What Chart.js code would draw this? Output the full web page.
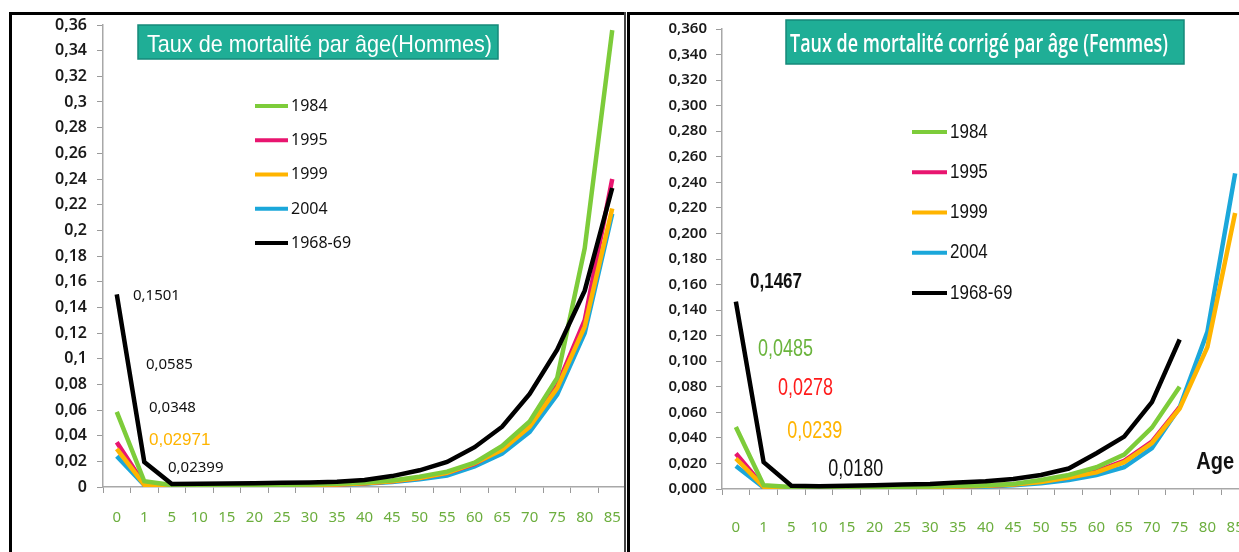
<!DOCTYPE html>
<html><head><meta charset="utf-8">
<script src="https://cdn.jsdelivr.net/npm/chart.js@4.4.0/dist/chart.umd.min.js"></script>
<style>
html,body{margin:0;padding:0;width:1239px;height:552px;overflow:hidden;background:#fff;}
#wrapH{position:absolute;left:0;top:0;width:626px;height:552px;}
#wrapF{position:absolute;left:629px;top:0;width:620px;height:552px;}
.fr{position:absolute;}
</style></head><body>
<div id="wrapH"><canvas id="cH" width="626" height="552"></canvas></div>
<div id="wrapF"><canvas id="cF" width="620" height="552"></canvas></div>
<div class="fr" style="left:9px;top:12px;width:3px;height:540px;background:#000"></div>
<div class="fr" style="left:9px;top:12px;width:617px;height:3px;background:#000"></div>
<div class="fr" style="left:624px;top:12px;width:2px;height:540px;background:#444"></div>
<div class="fr" style="left:627px;top:12px;width:3px;height:540px;background:#000"></div>
<div class="fr" style="left:627px;top:12px;width:612px;height:3px;background:#000"></div>
<script>
// ---------- DATA ----------
const ages = ['0','1','5','10','15','20','25','30','35','40','45','50','55','60','65','70','75','80','85'];
const seriesNames = ['1984','1995','1999','2004','1968-69'];

const yTickValues = [0,0.02,0.04,0.06,0.08,0.10,0.12,0.14,0.16,0.18,0.20,0.22,0.24,0.26,0.28,0.30,0.32,0.34,0.36];
const yTicksH = ['0','0,02','0,04','0,06','0,08','0,1','0,12','0,14','0,16','0,18','0,2','0,22','0,24','0,26','0,28','0,3','0,32','0,34','0,36'];
const yTicksF = ['0,000','0,020','0,040','0,060','0,080','0,100','0,120','0,140','0,160','0,180','0,200','0,220','0,240','0,260','0,280','0,300','0,320','0,340','0,360'];

// Hommes
const h1984 = [0.0585,0.0045,0.0015,0.0010,0.0012,0.0015,0.0017,0.0020,0.0025,0.0035,0.0050,0.0080,0.0120,0.0190,0.0320,0.0510,0.0850,0.1860,0.3560];
const h1995 = [0.0348,0.0020,0.0010,0.0008,0.0010,0.0012,0.0014,0.0016,0.0020,0.0030,0.0045,0.0070,0.0110,0.0180,0.0300,0.0480,0.0790,0.1300,0.2400];
const h1999 = [0.02971,0.0018,0.0009,0.0008,0.0010,0.0012,0.0014,0.0016,0.0020,0.0030,0.0045,0.0070,0.0110,0.0185,0.0290,0.0470,0.0770,0.1250,0.2170];
const h2004 = [0.02399,0.0015,0.0008,0.0007,0.0009,0.0010,0.0012,0.0014,0.0017,0.0025,0.0038,0.0060,0.0090,0.0160,0.0260,0.0430,0.0720,0.1200,0.2130];
const h1968 = [0.1501,0.0195,0.0023,0.0025,0.0028,0.0030,0.0033,0.0035,0.0040,0.0055,0.0085,0.0130,0.0195,0.0310,0.0470,0.0725,0.1070,0.1530,0.2330];

// Femmes
const f1984 = [0.0485,0.0030,0.0015,0.0010,0.0012,0.0015,0.0018,0.0020,0.0025,0.0030,0.0040,0.0070,0.0110,0.0170,0.0270,0.0480,0.0800,null,null];
const f1995 = [0.0278,0.0020,0.0010,0.0008,0.0010,0.0012,0.0014,0.0016,0.0020,0.0025,0.0035,0.0060,0.0090,0.0140,0.0220,0.0370,0.0640,null,null];
const f1999 = [0.0239,0.0018,0.0009,0.0008,0.0010,0.0012,0.0014,0.0016,0.0020,0.0025,0.0035,0.0055,0.0090,0.0130,0.0210,0.0360,0.0630,0.1110,0.2160];
const f2004 = [0.0180,0.0012,0.0007,0.0006,0.0008,0.0010,0.0012,0.0014,0.0017,0.0020,0.0030,0.0045,0.0070,0.0110,0.0170,0.0320,0.0640,0.1230,0.2470];
const f1968 = [0.1467,0.0210,0.0025,0.0022,0.0025,0.0030,0.0035,0.0040,0.0050,0.0060,0.0078,0.0110,0.0160,0.0280,0.0410,0.0680,0.1170,null,null];

const titleH = 'Taux de mortalité par âge(Hommes)';
const titleF = 'Taux de mortalité corrigé par âge (Femmes)';

// ---------- STYLE ----------
const lineColors = ['#7dcc3a','#e8156f','#ffb400','#1ba7da','#000000'];
const drawOrder = [1,3,2,4,0];
const greenTick = '#6cae3e';

function sText(ctx, text, x, y, font, color, sy, sx, base){
  ctx.save();
  ctx.font = font; ctx.fillStyle = color; ctx.textAlign = 'left';
  ctx.textBaseline = base || 'middle';
  ctx.translate(x, y); ctx.scale(sx || 1, sy || 1);
  ctx.fillText(text, 0, 0);
  ctx.restore();
}

const decor = {
  id: 'decor',
  afterDatasetsDraw(chart, args, o){
    const ctx = chart.ctx;
    const t = o.title;
    ctx.save();
    ctx.fillStyle = '#1fae96';
    ctx.fillRect(t.x, t.y, t.w, t.h);
    ctx.strokeStyle = '#16897a'; ctx.lineWidth = 1.5;
    ctx.strokeRect(t.x, t.y, t.w, t.h);
    ctx.font = t.font;
    const w = ctx.measureText(t.text).width;
    ctx.restore();
    sText(ctx, t.text, t.tx, t.base, t.font, '#ffffff', 1, t.tw / w, 'alphabetic');

    const L = o.legend;
    chart.data.datasets.forEach((ds, i) => {
      const y = L.y + i * L.dy;
      ctx.save();
      ctx.strokeStyle = ds.borderColor; ctx.lineWidth = 4; ctx.lineCap = 'butt';
      ctx.beginPath(); ctx.moveTo(L.x, y); ctx.lineTo(L.x + L.len, y); ctx.stroke();
      ctx.restore();
      sText(ctx, ds.label, L.x + L.len + L.gap, y, L.font, '#111', L.sy);
    });

    const xs = chart.scales.x, ys = chart.scales.y;
    o.notes.forEach(n => {
      sText(ctx, n.text, xs.getPixelForValue(n.xi), ys.getPixelForValue(n.yv), n.font, n.color, n.sy || 1);
    });
  }
};

function makeChart(id, sets, yLabels, cfg){
  const datasets = sets.map((d, i) => ({
    label: seriesNames[i], data: d, borderColor: lineColors[i], backgroundColor: lineColors[i],
    borderWidth: 4.5, pointRadius: 0, tension: 0, fill: false, order: drawOrder[i], spanGaps: false
  }));
  return new Chart(document.getElementById(id), {
    type: 'line',
    data: { labels: ages, datasets },
    options: {
      responsive: false, animation: false,
      layout: { padding: { top: cfg.top, left: 0, right: 0, bottom: 0 } },
      plugins: { legend: { display: false }, tooltip: { enabled: false }, decor: cfg.decor },
      scales: {
        x: {
          type: 'category', offset: true,
          grid: { display: true, drawOnChartArea: false, drawTicks: true, tickLength: 6, color: '#9a9a9a', offset: true },
          border: { display: true, color: '#a8a8a8', width: 1.5 },
          ticks: { color: greenTick, font: { family: 'Noto Sans', size: 15 }, padding: cfg.xpad, maxRotation: 0, autoSkip: false },
          afterFit(s){ s.height = cfg.xh; s.paddingLeft = 0; s.paddingRight = 0; }
        },
        y: {
          min: 0, max: 0.36,
          afterBuildTicks(s){ s.ticks = yTickValues.map(v => ({ value: v })); },
          grid: { display: true, drawOnChartArea: false, drawTicks: true, tickLength: 6, color: '#9a9a9a' },
          border: { display: true, color: '#a8a8a8', width: 1.5 },
          ticks: { color: '#1a1a1a', font: { family: 'Noto Sans', size: cfg.ys, weight: 600 }, padding: cfg.ypad,
                   callback: (v, i) => yLabels[i] },
          afterFit(s){ s.width = cfg.yw2; s.paddingTop = 0; s.paddingBottom = 0; }
        }
      }
    },
    plugins: [decor]
  });
}

makeChart('cH', [h1984, h1995, h1999, h2004, h1968], yTicksH, {
  top: 25, xh: 65, yw2: 103, xpad: 16, ypad: 10, ys: 16,
  decor: {
    title: { text: titleH, x: 138, y: 25, w: 360, h: 34, tx: 147, base: 52, tw: 345, font: '24px "Liberation Sans"' },
    legend: { x: 255, len: 33, gap: 3, y: 106, dy: 34.25, font: '16px "Noto Sans"', sy: 1.05 },
    notes: [
      { text: '0,1501', xi: 0.59, yv: 0.1488, font: '15px "Noto Sans"', color: '#111' },
      { text: '0,0585', xi: 1.06, yv: 0.0951, font: '15px "Noto Sans"', color: '#111' },
      { text: '0,0348', xi: 1.17, yv: 0.0616, font: '15px "Noto Sans"', color: '#111' },
      { text: '0,02971', xi: 1.17, yv: 0.0366, font: '17px "Liberation Sans"', color: '#ffb400' },
      { text: '0,02399', xi: 1.86, yv: 0.0148, font: '15px "Noto Sans"', color: '#111' }
    ]
  }
});

makeChart('cF', [f1984, f1995, f1999, f2004, f1968], yTicksF, {
  top: 29, xh: 63, yw2: 93, xpad: 24, ypad: 9, ys: 15,
  decor: {
    title: { text: titleF, x: 157, y: 20, w: 398, h: 44, tx: 161, base: 52, tw: 378, font: '600 26px "Open Sans"' },
    legend: { x: 283, len: 35, gap: 3, y: 132, dy: 40.25, font: '17px "Liberation Sans"', sy: 1.2 },
    notes: [
      { text: '0,1467', xi: 0.51, yv: 0.162, font: 'bold 17px "Liberation Sans"', color: '#111', sy: 1.35 },
      { text: '0,0485', xi: 0.80, yv: 0.1088, font: '18px "Liberation Sans"', color: '#6ab43c', sy: 1.3 },
      { text: '0,0278', xi: 1.52, yv: 0.0790, font: '18px "Liberation Sans"', color: '#ff1a1a', sy: 1.3 },
      { text: '0,0239', xi: 1.85, yv: 0.0446, font: '18px "Liberation Sans"', color: '#ffb400', sy: 1.3 },
      { text: '0,0180', xi: 3.33, yv: 0.0149, font: '18px "Liberation Sans"', color: '#111', sy: 1.3 },
      { text: 'Age', xi: 16.6, yv: 0.0211, font: 'bold 20px "Liberation Sans"', color: '#111', sy: 1.2 }
    ]
  }
});
</script>
</body></html>
